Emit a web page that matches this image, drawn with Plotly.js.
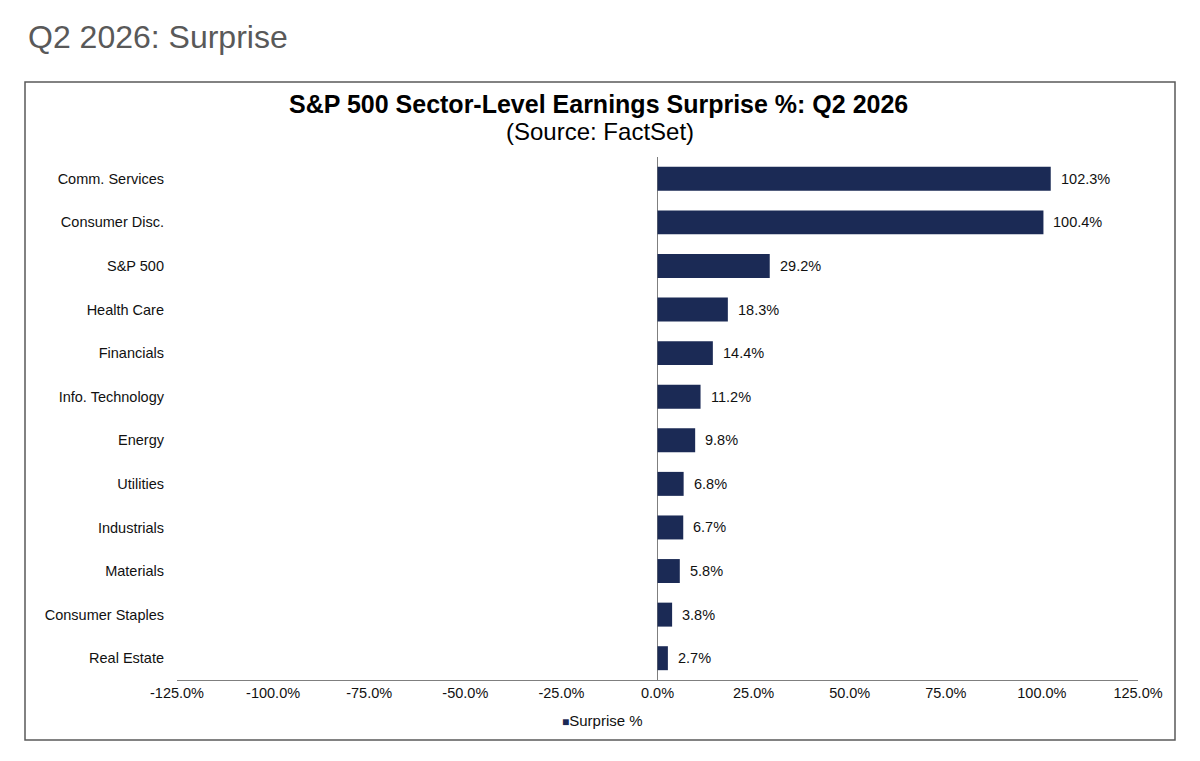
<!DOCTYPE html>
<html>
<head>
<meta charset="utf-8">
<script src="https://cdn.plot.ly/plotly-3.0.1.min.js"></script>
<style>
html,body{margin:0;padding:0;background:#fff;}
#chart{width:1200px;height:761px;}
</style>
</head>
<body>
<div id="chart"></div>
<script>
const categories = ["Comm. Services","Consumer Disc.","S&P 500","Health Care","Financials","Info. Technology","Energy","Utilities","Industrials","Materials","Consumer Staples","Real Estate"];
const surprise = [102.3,100.4,29.2,18.3,14.4,11.2,9.8,6.8,6.7,5.8,3.8,2.7];
const xTickVals = [-125,-100,-75,-50,-25,0,25,50,75,100,125];
const xTickText = ["-125.0%","-100.0%","-75.0%","-50.0%","-25.0%","0.0%","25.0%","50.0%","75.0%","100.0%","125.0%"];
const seriesName = "Surprise %";
const chartTitle = "S&P 500 Sector-Level Earnings Surprise %: Q2 2026";
const chartSubtitle = "(Source: FactSet)";
const pageTitle = "Q2 2026: Surprise";

const W = 1200, H = 761;
const L = 177, R = 1138, T = 157, B = 680;
const px = x => (x - L) / (R - L);
const py = y => 1 - (y - T) / (B - T);
const navy = "#1b2a55";
const FONT = "Liberation Sans, Arial, sans-serif";

const trace = {
  type: "bar",
  orientation: "h",
  x: surprise,
  y: categories,
  name: seriesName,
  marker: {color: navy, line: {width: 0}},
  hoverinfo: "x+y",
  showlegend: false
};

const annotations = surprise.map((v, i) => ({
  x: v, y: categories[i], xref: "x", yref: "y",
  text: v.toFixed(1) + "%", showarrow: false,
  xanchor: "left", xshift: 8,
  font: {family: FONT, size: 14.5, color: "#111"}
}));

annotations.push(
  {xref: "paper", yref: "paper", x: px(598), y: py(104), text: "<b>" + chartTitle.replace("&","&amp;") + "</b>",
   showarrow: false, xanchor: "center", yanchor: "middle", font: {family: FONT, size: 25, color: "#000"}},
  {xref: "paper", yref: "paper", x: px(600), y: py(131), text: chartSubtitle,
   showarrow: false, xanchor: "center", yanchor: "middle", font: {family: FONT, size: 24, color: "#000"}},
  {xref: "paper", yref: "paper", x: px(26), y: py(37), text: pageTitle,
   showarrow: false, xanchor: "left", yanchor: "middle", font: {family: FONT, size: 32, color: "#595959"}},
  {xref: "paper", yref: "paper", x: px(560), y: py(720), text: '<span style="color:' + navy + ';font-size:12px">■</span>' + seriesName,
   showarrow: false, xanchor: "left", yanchor: "middle", font: {family: FONT, size: 15, color: "#111"}}
);

const layout = {
  width: W, height: H,
  margin: {l: L, r: W - R, t: T, b: H - B, pad: 0},
  paper_bgcolor: "#fff", plot_bgcolor: "#fff",
  bargap: 0.45,
  showlegend: false,
  xaxis: {
    range: [-125, 125], tickvals: xTickVals, ticktext: xTickText,
    showgrid: false, zeroline: true, zerolinecolor: "#7f7f7f", zerolinewidth: 1,
    showline: true, linecolor: "#7f7f7f", linewidth: 1, ticks: "",
    tickfont: {family: FONT, size: 14.5, color: "#111"}, fixedrange: true
  },
  yaxis: {
    categoryorder: "array", categoryarray: categories, autorange: "reversed",
    showgrid: false, zeroline: false, showline: false, ticks: "",
    ticklabelstandoff: 12,
    tickfont: {family: FONT, size: 14.5, color: "#111"}, fixedrange: true
  },
  shapes: [{
    type: "rect", xref: "paper", yref: "paper",
    x0: px(25), x1: px(1175), y0: py(740), y1: py(82),
    line: {color: "#595959", width: 1.5}, fillcolor: "rgba(0,0,0,0)"
  }],
  annotations: annotations
};

Plotly.newPlot("chart", [trace], layout, {displayModeBar: false, staticPlot: true});
</script>
</body>
</html>
